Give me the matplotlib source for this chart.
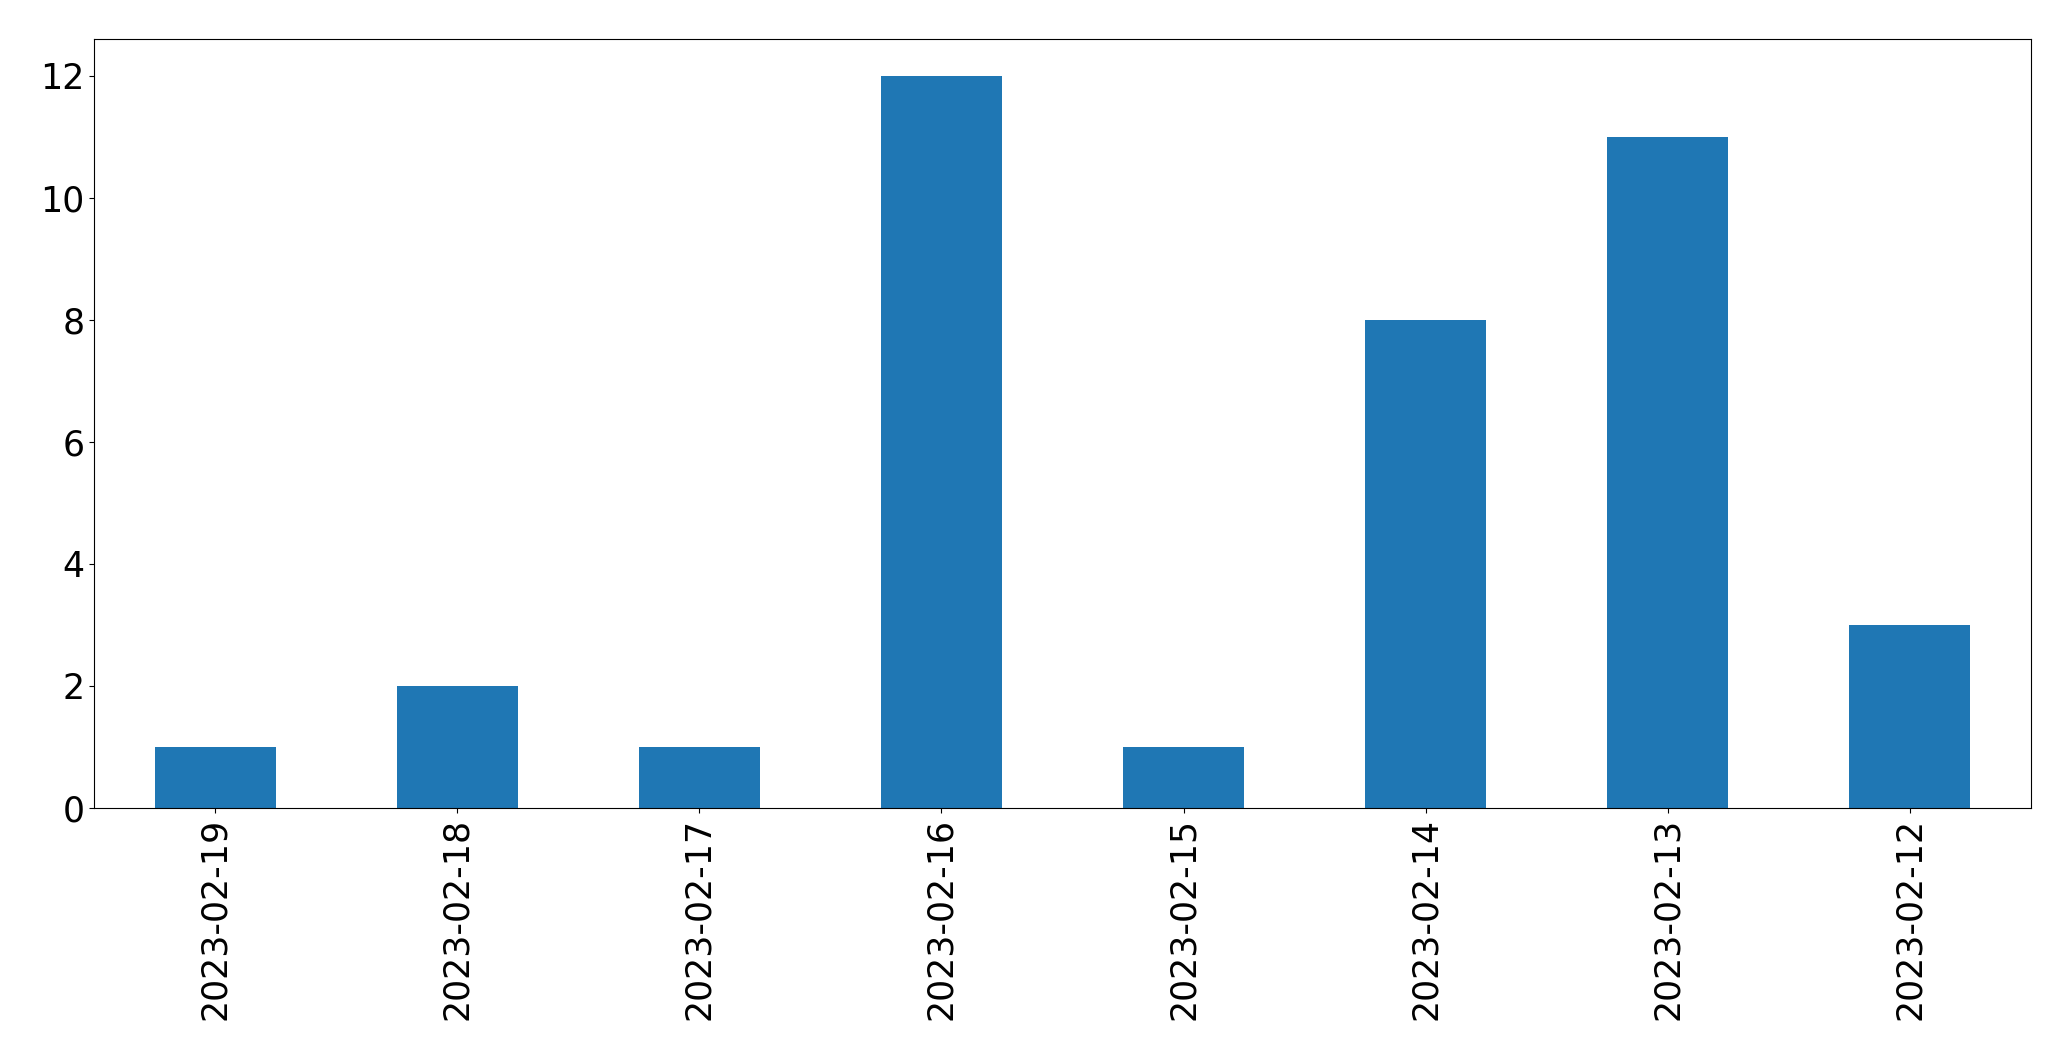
import matplotlib
matplotlib.use("Agg")
import matplotlib.pyplot as plt
import pandas as pd

# daily counts, newest first (as in the source chart)
dates = ["2023-02-19", "2023-02-18", "2023-02-17", "2023-02-16",
         "2023-02-15", "2023-02-14", "2023-02-13", "2023-02-12"]
counts = [1, 2, 1, 12, 1, 8, 11, 3]

s = pd.Series(counts, index=dates)

fig = plt.figure(figsize=(20.71, 10.61), dpi=100)
ax = fig.add_subplot(111)
s.plot(kind="bar", ax=ax, color="#1f77b4", width=0.5)

ax.tick_params(axis="both", labelsize=25)
ax.set_yticks([0, 2, 4, 6, 8, 10, 12])

fig.subplots_adjust(left=0.0454, right=0.9807, top=0.9632, bottom=0.2385)
fig.savefig("out.png", dpi=100)
